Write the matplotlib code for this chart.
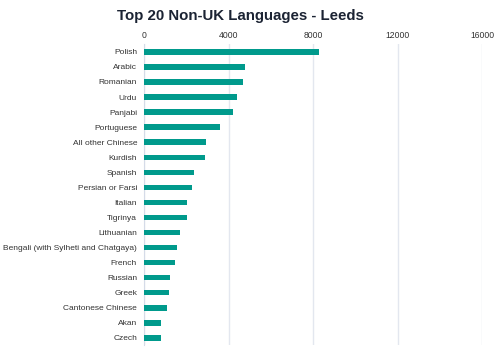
import matplotlib
matplotlib.use("Agg")
from matplotlib import pyplot as plt

plt.rcParams["font.family"] = ["Liberation Sans", "DejaVu Sans"]

languages = ["Polish", "Arabic", "Romanian", "Urdu", "Panjabi", "Portuguese",
             "All other Chinese", "Kurdish", "Spanish", "Persian or Farsi",
             "Italian", "Tigrinya", "Lithuanian",
             "Bengali (with Sylheti and Chatgaya)", "French", "Russian",
             "Greek", "Cantonese Chinese", "Akan", "Czech"]
speakers = [8270, 4800, 4700, 4400, 4200, 3580, 2940, 2900, 2350, 2290,
            2040, 2040, 1700, 1560, 1470, 1250, 1185, 1105, 820, 820]
x_ticks = [0, 4000, 8000, 12000, 16000]

fig = plt.figure(figsize=(5, 3.51), dpi=100)
ax = fig.add_axes([0.288, 0.017, 0.676, 0.858])

ypos = list(range(len(languages)))
ax.barh(ypos, speakers, height=0.36, color="#009a8c", zorder=3)
ax.set_yticks(ypos)
ax.set_yticklabels(languages, fontsize=6.0, color="#333333")
ax.set_ylim(19.47, -0.53)
ax.set_xlim(0, 16000)
ax.set_xticks(x_ticks)
ax.set_xticklabels([str(t) for t in x_ticks], fontsize=6.2, color="#333333")
ax.xaxis.tick_top()
ax.tick_params(axis="x", length=0, pad=3)
ax.tick_params(axis="y", length=0, pad=5)
ax.grid(axis="x", color="#e3e7ef", linewidth=1, zorder=0)
for side in ["top", "right", "bottom"]:
    ax.spines[side].set_visible(False)
ax.spines["left"].set_color("#d5dbe8")

fig.text(0.48, 0.955, "Top 20 Non-UK Languages - Leeds", ha="center", va="center",
         fontsize=10.8, fontweight="bold", color="#1b2333")

fig.savefig("out.png", dpi=100)
